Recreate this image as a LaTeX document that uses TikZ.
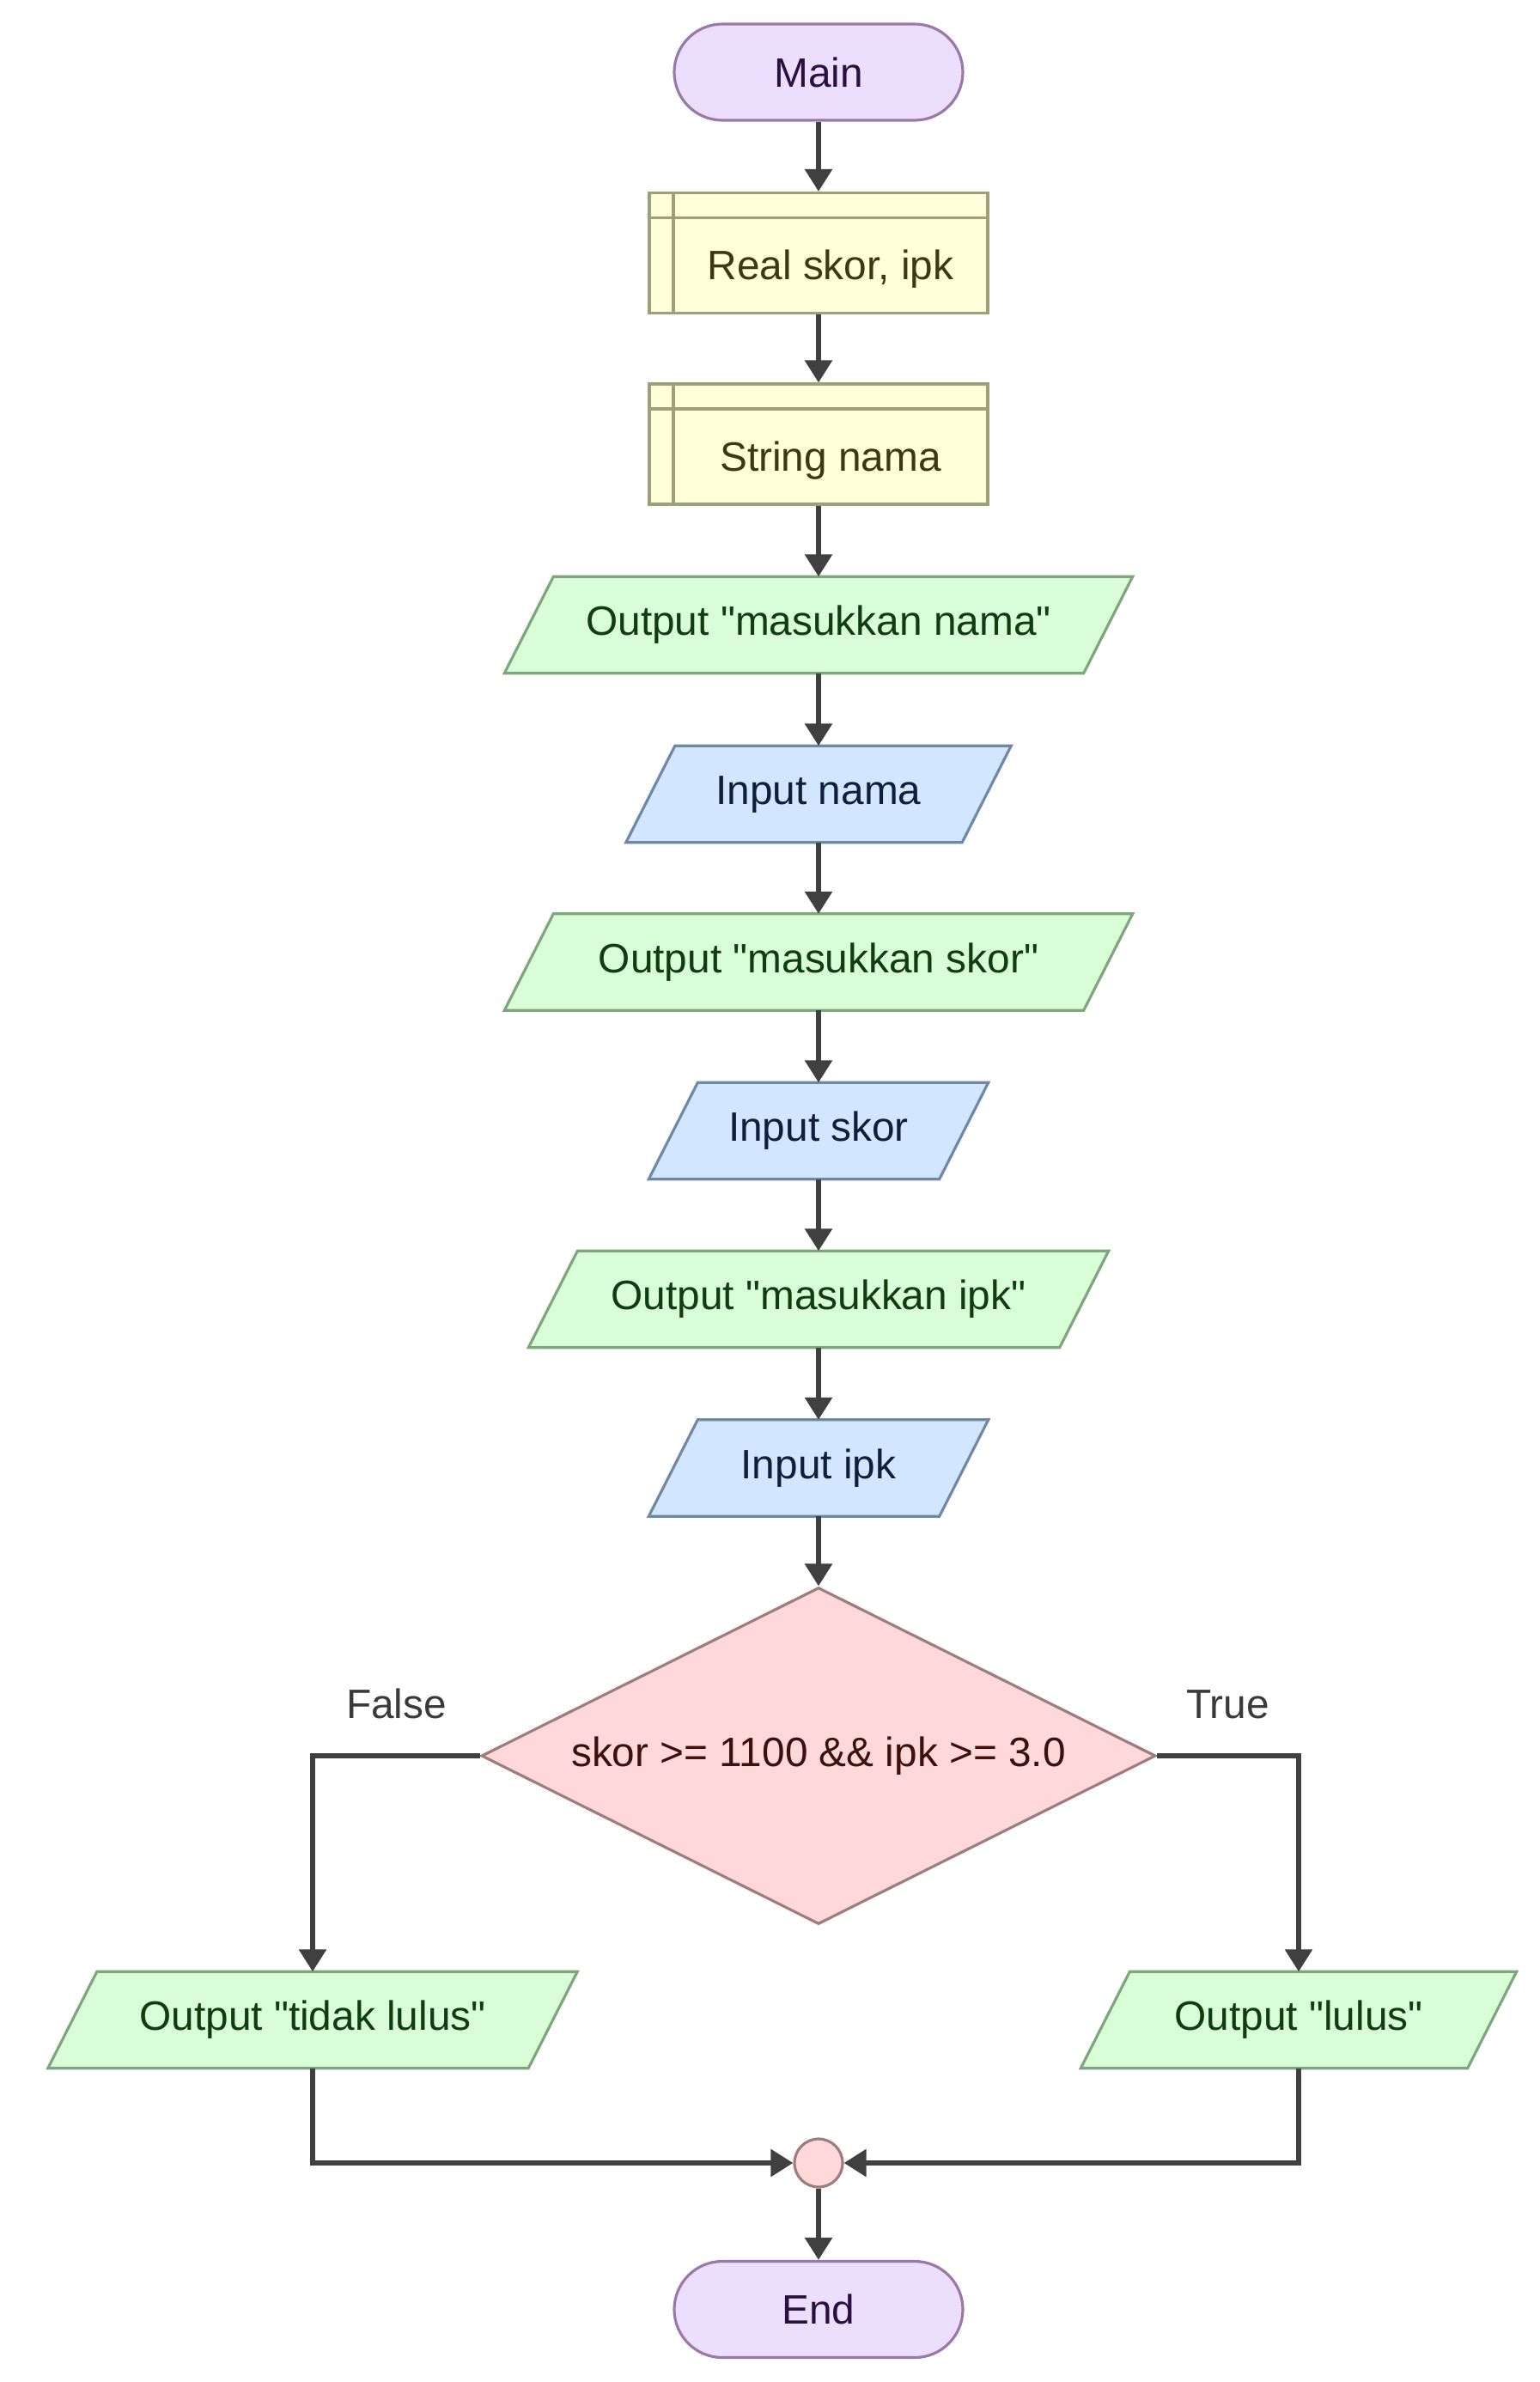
\documentclass[tikz,border=0pt]{standalone}
\usepackage{fontspec}
\setmainfont{Liberation Sans}
\usetikzlibrary{shapes.geometric, arrows.meta, positioning, calc, backgrounds}

\definecolor{termfill}{HTML}{ECDFFD}
\definecolor{termline}{HTML}{9A78A8}
\definecolor{termtext}{HTML}{2A0F40}
\definecolor{declfill}{HTML}{FFFFDA}
\definecolor{declline}{HTML}{A0A078}
\definecolor{decltext}{HTML}{3A3A12}
\definecolor{outfill}{HTML}{D9FDD7}
\definecolor{outline}{HTML}{7EA67C}
\definecolor{outtext}{HTML}{0F3D10}
\definecolor{infill}{HTML}{D2E7FF}
\definecolor{inline}{HTML}{6E88A6}
\definecolor{intext}{HTML}{0F1E3C}
\definecolor{decfill}{HTML}{FFD9D9}
\definecolor{decline}{HTML}{A07C7C}
\definecolor{dectext}{HTML}{3D0F0F}
\definecolor{flowline}{HTML}{404040}

\newcommand{\q}{\textquotedbl}

\begin{document}
\begin{tikzpicture}[
		font=\fontsize{13.6pt}{16pt}\selectfont,
		% Terminal styles
		terminal/.style={draw=termline, fill=termfill, text=termtext, line width=0.9pt, rounded corners=5.6mm, minimum width=3.36cm, minimum height=1.12cm},
		% Declaration styles
		declbox/.style={draw=declline, fill=declfill, line width=0.9pt, minimum width=3.94cm, minimum height=1.40cm,
			path picture={\draw[declline, line width=0.9pt]
				($(path picture bounding box.north west)+(0.28,0)$) -- ($(path picture bounding box.south west)+(0.28,0)$)
				($(path picture bounding box.north west)+(0,-0.29)$) -- ($(path picture bounding box.north east)+(0,-0.29)$);}},
		decllabel/.style={text=decltext},
		% Input / Output styles (text box; the slanted outline is drawn behind it)
		iobox/.style={rectangle, minimum height=1.11cm},
		outbox/.style={iobox, text=outtext},
		inbox/.style={iobox, text=intext},
		outshape/.style={draw=outline, fill=outfill, line width=0.9pt},
		inshape/.style={draw=inline, fill=infill, line width=0.9pt},
		% Decision styles
		decision/.style={diamond, aspect=2, draw=decline, fill=decfill, text=dectext, line width=0.9pt, minimum width=7.85cm, minimum height=3.92cm},
		joint/.style={circle, draw=decline, fill=decfill, line width=0.9pt, minimum size=5.6mm, inner sep=0pt},
		% Connector styles
		flow/.style={draw=flowline, line width=1.7pt, -{Triangle[length=2.6mm, width=3.1mm]}},
		branch/.style={text=flowline!90!black}
		]
		
		\useasboundingbox (0,0) rectangle (17.93,-27.73);
		
		% --- MAIN COLUMN ---
		
		% 1. Start
		\node[terminal] (main) at (9.53,-0.84) {Main};
		
		% 2. Declarations
		\node[declbox] (real) at (9.53,-2.945) {};
		\node[decllabel] (realtxt) at ($(real.center)+(0.14,-0.19)$) {Real skor, ipk};
		\node[declbox] (strnama) at (9.53,-5.17) {};
		\node[decllabel] (strtxt) at ($(strnama.center)+(0.14,-0.19)$) {String nama};
		
		% 3. Reading the data
		\node[outbox, minimum width=6.73cm] (outnama) at (9.53,-7.275) {Output \q masukkan nama\q};
		\node[inbox, minimum width=3.90cm] (innama) at (9.53,-9.245) {Input nama};
		\node[outbox, minimum width=6.73cm] (outskor) at (9.53,-11.20) {Output \q masukkan skor\q};
		\node[inbox, minimum width=3.37cm] (inskor) at (9.53,-13.165) {Input skor};
		\node[outbox, minimum width=6.17cm] (outipk) at (9.53,-15.125) {Output \q masukkan ipk\q};
		\node[inbox, minimum width=3.37cm] (inipk) at (9.53,-17.09) {Input ipk};
		
		% 4. Decision
		\node[decision] (cek) at (9.53,-20.44) {skor >= 1100 \&\& ipk >= 3.0};
		
		% --- BRANCHES ---
		\node[outbox, minimum width=5.58cm] (tidak) at (3.64,-23.515) {Output \q tidak lulus\q};
		\node[outbox, minimum width=4.49cm] (lulus) at (15.12,-23.515) {Output \q lulus\q};
		
		% 5. Join and end
		\node[joint] (join) at (9.53,-25.18) {};
		\node[terminal] (end) at (9.53,-26.885) {End};
		
		% Slanted I/O outlines
		\begin{scope}[on background layer]
			\foreach \n/\s in {outnama/outshape, innama/inshape, outskor/outshape, inskor/inshape,
				outipk/outshape, inipk/inshape, tidak/outshape, lulus/outshape}
			\draw[\s] ($(\n.south west)+(-0.285,0)$) -- ($(\n.north west)+(0.285,0)$)
				-- ($(\n.north east)+(0.285,0)$) -- ($(\n.south east)+(-0.285,0)$) -- cycle;
		\end{scope}
		
		% Connections
		\draw[flow] (main) -- (real);
		\draw[flow] (real) -- (strnama);
		\draw[flow] (strnama) -- (outnama);
		\draw[flow] (outnama) -- (innama);
		\draw[flow] (innama) -- (outskor);
		\draw[flow] (outskor) -- (inskor);
		\draw[flow] (inskor) -- (outipk);
		\draw[flow] (outipk) -- (inipk);
		\draw[flow] (inipk) -- (cek);
		
		\draw[flow] (cek.west) -| (tidak.north) node[pos=0.25, above=0.28cm, branch] (lblfalse) {False};
		\draw[flow] (cek.east) -| (lulus.north) node[pos=0.25, above=0.28cm, branch] (lbltrue) {True};
		
		\draw[flow] (tidak.south) |- (join.west);
		\draw[flow] (lulus.south) |- (join.east);
		\draw[flow] (join) -- (end);
		
	\end{tikzpicture}
\end{document}
